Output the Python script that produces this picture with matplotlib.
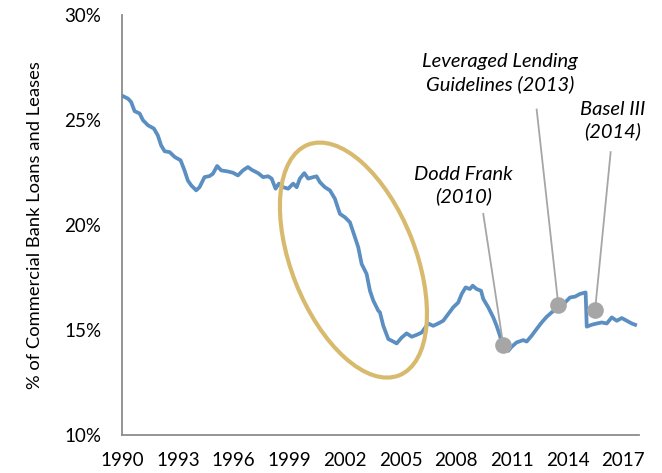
import matplotlib
matplotlib.use("Agg")
import matplotlib.pyplot as plt
from matplotlib.patches import Ellipse
from matplotlib.transforms import IdentityTransform
from matplotlib.ticker import FuncFormatter

plt.rcParams['font.family'] = ['Lato', 'DejaVu Sans']

# ---- data ----
years = [1990.00, 1990.30, 1990.47, 1990.66, 1990.93, 1991.11, 1991.38, 1991.70, 1991.91, 1992.09,
         1992.28, 1992.55, 1992.82, 1993.14, 1993.35, 1993.53, 1993.71, 1993.98, 1994.16, 1994.43,
         1994.70, 1994.88, 1995.11, 1995.33, 1995.69, 1995.96, 1996.23, 1996.50, 1996.77, 1996.97,
         1997.32, 1997.59, 1997.86, 1998.05, 1998.26, 1998.44, 1998.67, 1998.94, 1999.21, 1999.40,
         1999.57, 1999.81, 2000.02, 2000.29, 2000.47, 2000.65, 2000.92, 2001.19, 2001.46, 2001.73,
         2002.00, 2002.27, 2002.45, 2002.72, 2002.90, 2003.17, 2003.35, 2003.53, 2003.80, 2003.89,
         2004.07, 2004.34, 2004.61, 2004.79, 2005.06, 2005.33, 2005.60, 2005.87, 2006.14, 2006.49,
         2006.76, 2007.03, 2007.30, 2007.57, 2007.84, 2008.11, 2008.30, 2008.51, 2008.74, 2008.89,
         2009.10, 2009.34, 2009.46, 2009.73, 2010.00, 2010.18, 2010.36, 2010.54, 2010.81, 2010.99,
         2011.26, 2011.62, 2011.80, 2012.07, 2012.34, 2012.61, 2012.88, 2013.15, 2013.51, 2013.87,
         2014.14, 2014.41, 2014.68, 2014.98, 2015.04, 2015.31, 2015.58, 2015.85, 2016.12, 2016.39,
         2016.66, 2016.93, 2017.20, 2017.47, 2017.65]
share = [26.15, 26.02, 25.86, 25.42, 25.31, 24.99, 24.75, 24.59, 24.27, 23.79,
         23.51, 23.47, 23.24, 23.08, 22.60, 22.12, 21.89, 21.65, 21.80, 22.28,
         22.33, 22.44, 22.81, 22.60, 22.55, 22.49, 22.36, 22.60, 22.76, 22.63,
         22.47, 22.28, 22.32, 22.21, 21.73, 21.97, 21.80, 21.73, 21.97, 21.80,
         22.21, 22.47, 22.21, 22.28, 22.32, 22.04, 21.80, 21.65, 21.25, 20.53,
         20.37, 20.13, 19.66, 18.94, 18.15, 17.67, 16.87, 16.40, 15.92, 15.84,
         15.20, 14.57, 14.45, 14.36, 14.64, 14.84, 14.68, 14.77, 14.88, 15.31,
         15.20, 15.31, 15.44, 15.76, 16.08, 16.31, 16.72, 17.03, 16.95, 17.11,
         16.95, 16.87, 16.48, 16.08, 15.60, 15.20, 14.73, 14.09, 14.01, 14.20,
         14.41, 14.52, 14.45, 14.73, 15.05, 15.36, 15.63, 15.84, 16.08, 16.31,
         16.55, 16.59, 16.72, 16.79, 15.16, 15.25, 15.31, 15.36, 15.31, 15.60,
         15.44, 15.57, 15.44, 15.31, 15.25]

tick_years = [1990, 1993, 1996, 1999, 2002, 2005, 2008, 2011, 2014, 2017]
y_ticks = [10, 15, 20, 25, 30]

event_labels = ["Dodd Frank\n(2010)", "Leveraged Lending\nGuidelines (2013)", "Basel III\n(2014)"]
event_x = [2010.54, 2013.51, 2015.49]
event_y = [14.28, 16.18, 15.95]
label_x = [2008.39, 2010.36, 2016.42]
label_y = [21.89, 27.23, 24.97]
leader_x = [2009.46, 2012.34, 2016.33]
leader_y = [20.53, 25.50, 23.47]

circle_center = (2002.46, 18.33)

# ---- figure ----
fig = plt.figure(figsize=(6.62, 4.73), dpi=100)
ax = fig.add_axes([0.1843, 0.0803, 0.9653 - 0.1843, 0.9683 - 0.0803])

ax.plot(years, share, color='#5B8FC1', lw=2.7, solid_joinstyle='round', zorder=3)

ax.set_xlim(1989.98, 2017.86)
ax.set_ylim(10, 30)
ax.set_xticks(tick_years)
ax.set_xticklabels([str(t) for t in tick_years])
ax.set_yticks(y_ticks)
ax.yaxis.set_major_formatter(FuncFormatter(lambda v, p: f"{v:.0f}%"))
ax.tick_params(axis='both', length=0, labelsize=13.5, colors='#000000')
ax.tick_params(axis='y', pad=15)
ax.tick_params(axis='x', pad=12)

for s in ['top', 'right']:
    ax.spines[s].set_visible(False)
for s in ['left', 'bottom']:
    ax.spines[s].set_color('#8C8C8C')
    ax.spines[s].set_linewidth(1.3)

ax.set_ylabel("% of Commercial Bank Loans and Leases", fontsize=13.2)
ax.yaxis.set_label_coords(-0.153, 0.5)

# annotations
for lab, ex, ey, lx, ly, sx, sy in zip(event_labels, event_x, event_y, label_x, label_y, leader_x, leader_y):
    ax.plot([sx, ex], [sy, ey], color='#A6A6A6', lw=1.3, zorder=4)
    ax.plot([ex], [ey], 'o', color='#A6A6A6', ms=12, mec='none', zorder=5)
    ax.text(lx, ly, lab, ha='center', va='center', fontsize=14.5, style='italic',
            linespacing=1.3, zorder=6)

# highlight ellipse (drawn in pixels around a data-space centre)
fig.canvas.draw()
cx, cy = ax.transData.transform(circle_center)
ell = Ellipse((cx, cy), width=248, height=124, angle=-68.4, fill=False,
              edgecolor='#D8BA6E', lw=3.0, transform=IdentityTransform(), zorder=2)
fig.add_artist(ell)

fig.savefig("out.png", dpi=100)
